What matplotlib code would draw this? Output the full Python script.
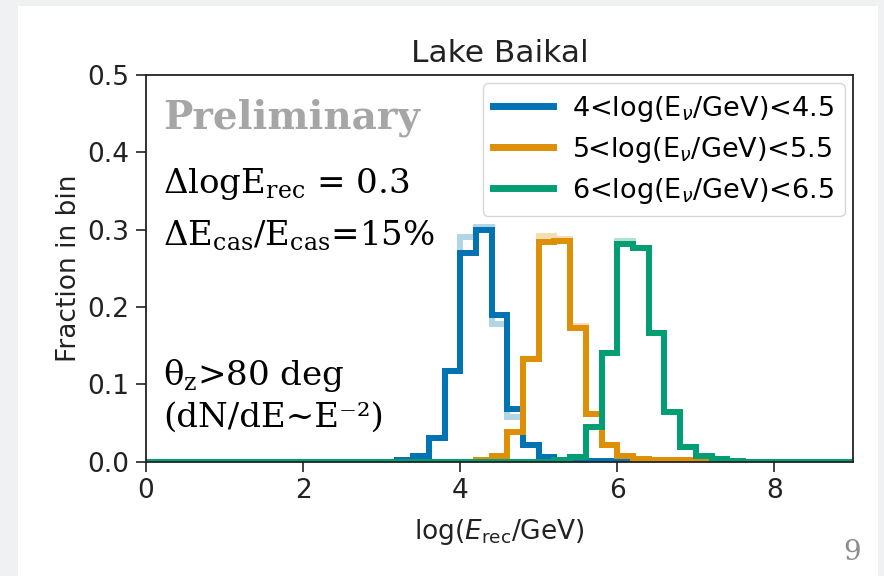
"""
Lake Baikal: reconstructed energy distributions for three true-energy bins
"""
import numpy as np
import matplotlib.pyplot as plt
from matplotlib.patches import Rectangle

# bins of 0.2 in log(E_rec/GeV) from 0 to 9
edges = np.round(np.arange(0, 9.001, 0.2), 2)

labels = ['4<log(E$_\\nu$/GeV)<4.5', '5<log(E$_\\nu$/GeV)<5.5', '6<log(E$_\\nu$/GeV)<6.5']
colors = ['#0173b2', '#de8f05', '#029e73']

# non-empty bins: first bin lower edge, then fractions
blue_start = 3.2
blue = [0.002, 0.008, 0.030, 0.117, 0.270, 0.300, 0.190, 0.068, 0.021, 0.006, 0.002, 0.001, 0.001, 0.001]
blue_alt = [0.002, 0.008, 0.030, 0.117, 0.290, 0.303, 0.178, 0.058, 0.021, 0.006, 0.002, 0.001, 0.001, 0.001]

orange_start = 4.2
orange = [0.002, 0.008, 0.039, 0.133, 0.284, 0.286, 0.173, 0.062, 0.021, 0.008, 0.003, 0.002, 0.002, 0.002]
orange_alt = [0.002, 0.008, 0.039, 0.133, 0.292, 0.288, 0.176, 0.062, 0.021, 0.008, 0.003, 0.002, 0.002, 0.002]

green_start = 5.2
green = [0.002, 0.006, 0.045, 0.141, 0.282, 0.276, 0.167, 0.064, 0.019, 0.007, 0.003, 0.001]
green_alt = [0.002, 0.006, 0.045, 0.141, 0.285, 0.276, 0.167, 0.064, 0.019, 0.007, 0.003, 0.001]


def full(start, vals):
	h = np.zeros(len(edges) - 1)
	i0 = int(round(start / 0.2))
	h[i0:i0 + len(vals)] = vals
	return h


fig = plt.figure(figsize=(8.84, 5.76), dpi=100, facecolor='#eff1f3')
fig.patches.append(Rectangle((18/884, 0), 860/884, 570/576, transform=fig.transFigure,
							 facecolor='white', edgecolor='none', zorder=-10))
ax = fig.add_axes([146/884, 1 - 461.7/576, 707/884, 386.7/576])
ax.set_zorder(5)

series = [(blue_start, blue, blue_alt), (orange_start, orange, orange_alt), (green_start, green, green_alt)]
for (start, v, va), c in zip(series, colors):
	ax.stairs(full(start, va), edges, color=c, lw=4.3, alpha=0.3)
for (start, v, va), c, lab in zip(series, colors, labels):
	ax.stairs(full(start, v), edges, color=c, lw=4.3, label=lab)

ax.set_xlim(0, 9)
ax.set_ylim(0, 0.5)
ax.set_xticks([0, 2, 4, 6, 8])
ax.set_yticks([0.0, 0.1, 0.2, 0.3, 0.4, 0.5])
ax.tick_params(labelsize=19, length=7, width=1.2, pad=5, colors='#222222')
for s in ax.spines.values():
	s.set_linewidth(1.3)
	s.set_color('#222222')

ax.set_title('Lake Baikal', fontsize=22.5, color='#222222', pad=9)
ax.set_xlabel('log($E_{\\rm rec}$/GeV)', fontsize=19, color='#222222', labelpad=9)
ax.set_ylabel('Fraction in bin', fontsize=19, color='#222222', labelpad=4)

leg = ax.legend(loc='upper right', fontsize=19.5, handlelength=2.2, borderaxespad=0.3,
				labelspacing=0.4, handletextpad=0.7, borderpad=0.4)
for ln in leg.get_lines():
	ln.set_linewidth(5)

serif = dict(family='DejaVu Serif', math_fontfamily='dejavuserif', transform=ax.transAxes,
			 va='baseline', color='black')
ax.text(0.024, 0.862, 'Preliminary', fontsize=28, weight='bold', color='#a6a6a6',
		family='DejaVu Serif', transform=ax.transAxes, va='baseline')
ax.text(0.024, 0.695, 'ΔlogE$_{\\rm rec}$ = 0.3', fontsize=24.5, **serif)
ax.text(0.024, 0.560, 'ΔE$_{\\rm cas}$/E$_{\\rm cas}$=15%', fontsize=24.5, **serif)
ax.text(0.024, 0.198, 'θ$_{\\rm z}$>80 deg', fontsize=24.5, **serif)
ax.text(0.024, 0.090, '(dN/dE~E⁻²)', fontsize=24.5, **serif)

fig.text(852/884, 1 - 560/576, '9', fontsize=20, family='DejaVu Serif', color='#8c8c8c', ha='center')

fig.savefig('out.png', dpi=100, facecolor=fig.get_facecolor())
